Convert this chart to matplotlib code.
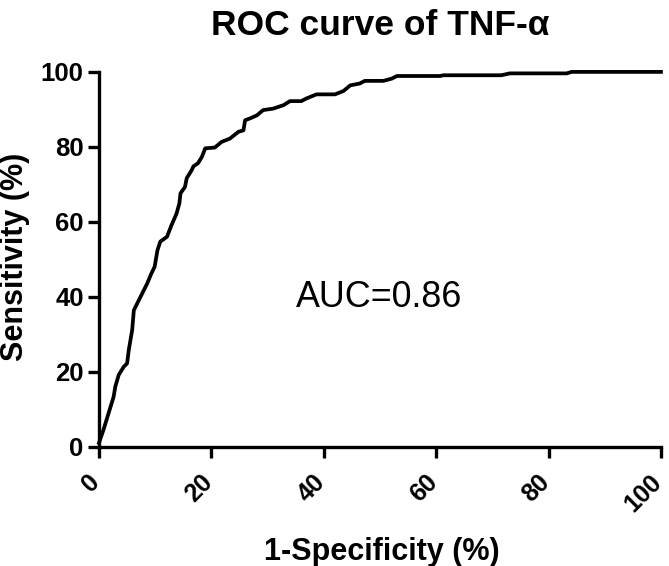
import matplotlib
matplotlib.use("Agg")
import matplotlib.pyplot as plt
import matplotlib.transforms as mtransforms

plt.rcParams['font.family'] = ['Liberation Sans', 'DejaVu Sans']

# ROC curve points (1-specificity %, sensitivity %)
fpr = [0, 0.8, 1.7, 2.6, 2.9, 3.5, 4.4, 5.0, 5.3, 5.9, 6.2, 7.1, 8.0, 8.6, 9.2,
       9.9, 10.4, 10.9, 12.1, 12.9, 13.8, 14.3, 14.5, 15.3, 15.6, 16.5, 16.8,
       17.6, 18.3, 18.9, 20.6, 21.8, 23.3, 24.8, 25.7, 26.0, 26.9, 28.1, 29.2,
       31.0, 32.8, 34.0, 36.0, 36.9, 38.7, 42.0, 43.5, 44.7, 46.4, 47.3, 50.6,
       52.1, 53.0, 60.7, 61.3, 71.6, 73.1, 83.2, 84.1, 100]
tpr = [1.0, 4.5, 8.9, 13.3, 16.0, 19.1, 21.3, 22.2, 25.8, 31.1, 36.4, 39.1, 41.8,
       43.6, 45.8, 48.0, 52.4, 54.7, 56.0, 59.1, 62.2, 64.9, 67.6, 69.3, 71.6,
       73.8, 74.8, 75.6, 77.3, 79.6, 79.8, 81.3, 82.2, 84.0, 84.4, 87.1, 87.6,
       88.4, 89.8, 90.2, 91.1, 92.2, 92.2, 92.9, 94.0, 94.0, 94.9, 96.4, 96.9,
       97.6, 97.6, 98.2, 98.9, 98.9, 99.1, 99.1, 99.6, 99.6, 100, 100]
ticks = [0, 20, 40, 60, 80, 100]
auc_text = "AUC=0.86"

fig = plt.figure(figsize=(6.69, 5.66), dpi=100)
ax = fig.add_axes([0.148, 0.211, 0.840, 0.662])

ax.plot(fpr, tpr, color='black', linewidth=2.7, clip_on=False,
        solid_joinstyle='round')

ax.set_xlim(0, 100)
ax.set_ylim(0, 100)
ax.set_xticks(ticks)
ax.set_yticks(ticks)

for s in ['top', 'right']:
    ax.spines[s].set_visible(False)
for s in ['left', 'bottom']:
    ax.spines[s].set_linewidth(2.4)

ax.tick_params(axis='both', length=8, width=2.4, labelsize=18.5)
ax.tick_params(axis='y', pad=3)
ax.tick_params(axis='x', pad=15, labelsize=18)
for lab in ax.get_yticklabels():
    lab.set_fontweight('bold')
shift = mtransforms.ScaledTranslation(-2 / 72, 0, fig.dpi_scale_trans)
for lab in ax.get_xticklabels():
    lab.set_fontweight('bold')
    lab.set_rotation(45)
    lab.set_ha('right')
    lab.set_va('center')
    lab.set_rotation_mode('anchor')
    lab.set_transform(lab.get_transform() + shift)

fig.text(0.571, 1 - 560 / 566, '1-Specificity (%)', fontsize=22, fontweight='bold',
         ha='center', va='baseline')
fig.text(15 / 669, 1 - 257 / 566, 'Sensitivity (%)', fontsize=22, fontweight='bold',
         ha='center', va='center', rotation=90)
fig.text(0.569, 1 - 35 / 566, 'ROC curve of TNF-α', fontsize=25.5, fontweight='bold',
         ha='center', va='baseline')

ax.text(49.8, 39.8, auc_text, fontsize=25.8, ha='center', va='center')

fig.savefig('out.png', dpi=100)
